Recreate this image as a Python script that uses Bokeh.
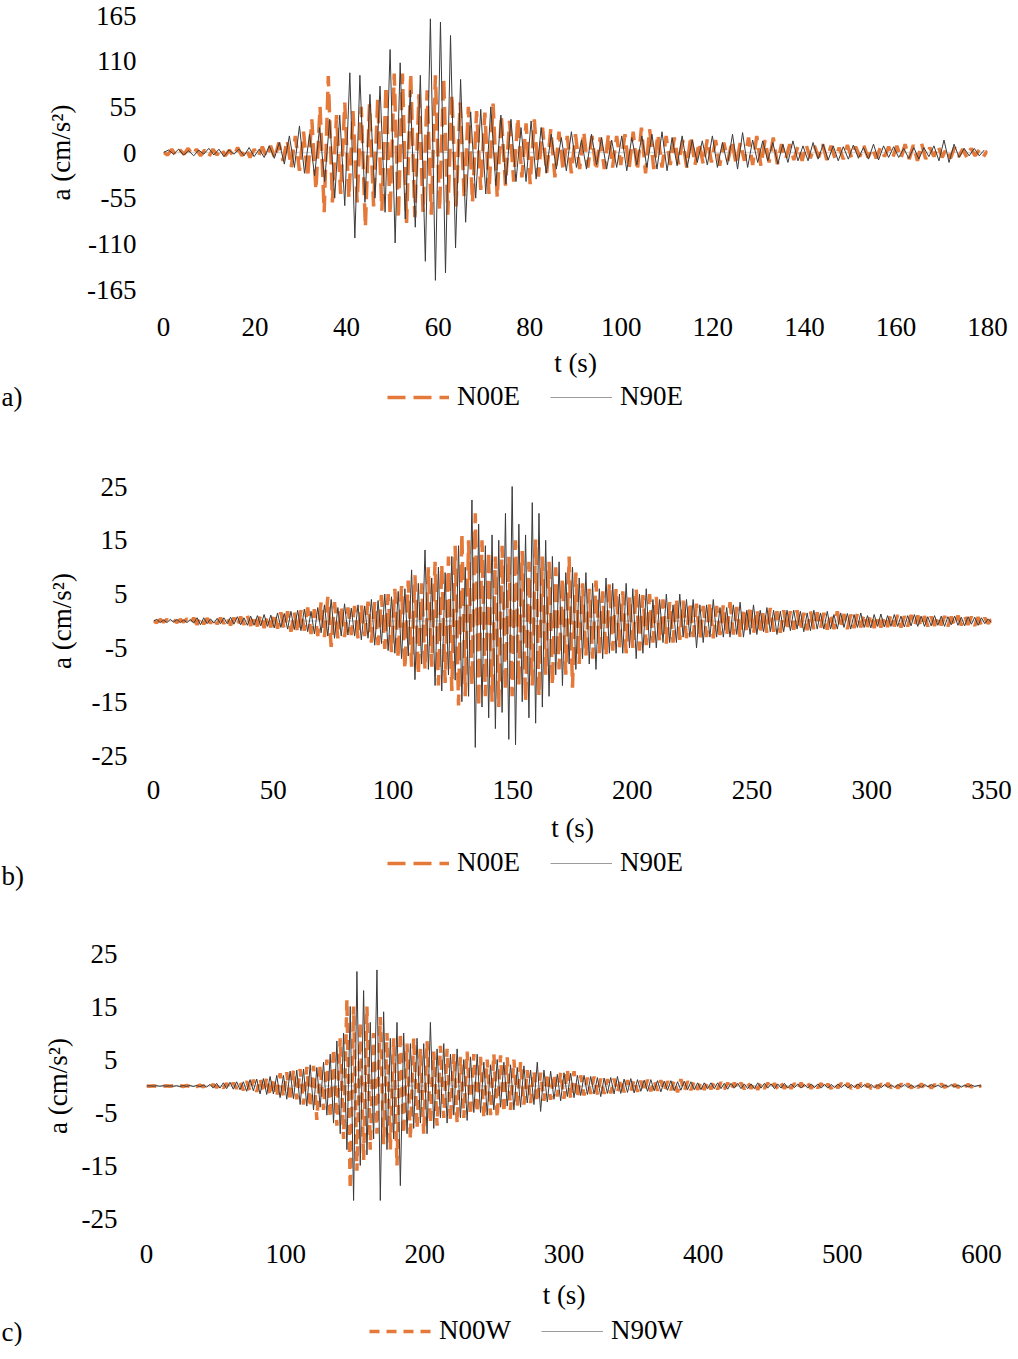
from bokeh.plotting import figure
from bokeh.models import Range1d, FixedTicker, Span, Legend, LegendItem, Label
from bokeh.layouts import column
from bokeh.embed import file_html
from bokeh.resources import INLINE

# ---------------- data ----------------
# panel a) : 0-180 s, cm/s^2
A_X_TICKS = [0, 20, 40, 60, 80, 100, 120, 140, 160, 180]
A_Y_TICKS = [-165, -110, -55, 0, 55, 110, 165]
A_NAMES = ["N00E", "N90E"]
A_DT_N00E = 0.9
A_N00E = [
    0, -3, 4, -4, 3, -2, 5, -3, 4, -4,
    3, -5, 4, -3, 5, -4, 3, -5, 6, -4,
    5, -6, 4, -5, 7, -6, 8, -7,
    12, -10, 15, -18, 20, -22, 25, -30, 40, -45,
    55, -72, 92, -60, 45, -50, 60, -55, 50, -60,
    55, -90, 58, -65, 65, -70, 80, -75, 95, -80,
    95, -85, 95, -78, 70, -72, 75, -75, 93, -70,
    90, -75, 70, -65, 60, -55, 55, -60, 50, -45,
    48, -50, 59, -54, 45, -40, 38, -35, 42, -30,
    35, -38, 40, -29, 30, -25, 28, -30, 25, -22,
    20, -25, 22, -20, 25, -18, 20, -22, 18, -20,
    22, -18, 20, -15, 22, -20, 25, -22, 30, -25,
    28, -20, 22, -18, 20, -15, 18, -14, 15, -18,
    20, -15, 12, -14, 16, -12, 15, -16, 12, -10,
    14, -15, 12, -10, 18, -15, 20, -16, 15, -12,
    18, -14, 10, -8, 10, -9, 8, -10, 9, -7,
    8, -6, 10, -9, 8, -7, 6, -8, 9, -6,
    7, -5, 8, -6, 5, -7, 6, -5, 7, -6,
    8, -7, 10, -8, 9, -10, 11, -8, 6, -5,
    8, -6, 5, -7, 6, -5, 4, -6, 5, -4,
    3, -5, 2,
]
A_DT_N90E = 1.1
A_N90E = [
    0, 3, -2, 4, -3, 2, -4, 3, -2, 5, -3, 4, -5, 3, -2, 4, -4, 6, -5, 4, -6, 8, -7,
    12, -14, 20, -18, 32, -25, 22, -28, 30,
    -35, 40, -55, 45, -64, 96, -103, 93, -60,
    70, -55, 80, -72, 124, -109, 108, -80, 75, -90,
    93, -131, 161, -154, 157, -145, 141, -115, 88, -84,
    49, -55, 52, -50, 55, -40, 45, -38, 40, -35,
    30, -35, 38, -32, 30, -25, 22, -20, 18, -22,
    25, -18, 15, -20, 22, -15, 18, -20, 15, -18,
    20, -22, 18, -15, 20, -18, 22, -20, 25, -22,
    18, -16, 20, -18, 15, -12, 14, -15, 20, -18,
    12, -15, 22, -20, 24, -18, 15, -12, 14, -10,
    12, -14, 10, -12, 14, -10, 8, -10, 12, -8,
    10, -9, 8, -10, 7, -8, 9, -7, 6, -8,
    10, -9, 8, -6, 7, -6, 5, -7, 6, -8,
    6, -5, 8, -10, 15, -12, 10, -6, 5, -4,
    5, -4, 3,
]

# panel b) : 0-350 s
B_X_TICKS = [0, 50, 100, 150, 200, 250, 300, 350]
B_Y_TICKS = [-25, -15, -5, 5, 15, 25]
B_NAMES = ["N00E", "N90E"]
B_DT_N00E = 1.4
B_N00E = [
    0, -0.3, 0.3, -0.2, 0.3, -0.3, 0.2, -0.3, 0.3, -0.2,
    0.4, -0.5, 0.6, -0.7, 0.8, -0.6, 0.5, -0.4, 0.5, -0.6,
    0.6, -0.5, 0.7, -0.8, 0.6, -0.9, 0.8, -0.7, 1.0, -0.9,
    1.1, -1.0, 1.2, -1.3, 1.0, -1.2, 1.5, -1.4, 1.6, -1.5,
    1.8, -2.0, 1.6, -2.2, 2.0, -1.8, 2.5, -2.4, 2.2, -2.8,
    3.5, -3.0, 4.5, -4.8, 3.5, -3.2, 2.8, -3.0, 2.5, -2.6,
    2.8, -3.2, 3.0, -2.8, 3.6, -4.0, 3.5, -4.5, 4.8, -5.2,
    5.0, -5.8, 6.0, -7.0, 6.5, -9.0, 7.5, -8.5, 8.5, -10.0,
    7.0, -9.0, 10.0, -8.5, 11.0, -12.0, 10.5, -11.5, 12.0, -13.0,
    14.0, -15.7, 16.3, -14.0, 15.0, -12.0, 20.0, -16.0, 15.0, -14.0,
    13.0, -15.0, 12.0, -16.0, 14.0, -13.0, 12.0, -14.0, 15.0, -12.0,
    13.0, -15.0, 11.0, -12.0, 15.2, -14.0, 12.0, -10.0, 11.0, -12.0,
    10.0, -9.0, 8.0, -10.0, 12.0, -12.4, 9.0, -8.0, 7.0, -6.5,
    6.0, -7.0, 7.5, -6.0, 5.5, -6.5, 7.0, -5.5, 6.0, -5.0,
    5.5, -6.0, 4.5, -5.0, 6.0, -5.5, 4.8, -4.5, 5.0, -4.0,
    4.5, -3.8, 4.0, -4.2, 3.5, -4.0, 4.2, -3.5, 3.8, -3.2,
    3.5, -3.0, 3.2, -3.5, 2.8, -3.0, 3.5, -3.2, 2.8, -2.6,
    3.0, -2.8, 3.5, -2.5, 2.6, -3.0, 2.4, -2.2, 2.8, -2.5,
    2.2, -2.4, 2.0, -2.2, 2.4, -2.0, 1.8, -2.2, 2.0, -1.8,
    1.8, -1.6, 2.0, -1.8, 1.5, -1.7, 1.8, -1.5, 1.6, -1.4,
    1.5, -1.6, 1.4, -1.5, 1.8, -1.4, 1.3, -1.5, 1.2, -1.3,
    1.4, -1.2, 1.3, -1.1, 1.2, -1.3, 1.1, -1.2, 1.0, -1.1,
    1.2, -1.0, 1.1, -1.2, 0.9, -1.0, 1.1, -0.9, 1.0, -1.1,
    0.9, -1.0, 0.8, -0.9, 1.0, -0.8, 0.9, -1.0, 0.8, -0.9,
    1.0, -0.8, 0.9, -0.7, 0.8, -0.9, 0.7, -0.8, 0.6, -0.5,
    0.3,
]
B_DT_N90E = 1.4
B_N90E = [
    0, 0.3, -0.3, 0.2, -0.3, 0.3, -0.2, 0.3, -0.3, 0.2,
    -0.3, 0.3, -0.4, 0.6, -0.7, 0.6, -0.5, 0.4, -0.4, 0.5,
    -0.5, 0.6, -0.5, 0.7, -0.6, 0.8, -0.7, 0.6, -0.8, 0.9,
    -0.8, 1.0, -0.9, 1.2, -1.0, 1.1, -1.3, 1.5, -1.2, 1.4,
    -1.5, 1.8, -1.6, 2.0, -1.8, 2.2, -2.0, 1.8, -2.4, 2.5,
    -2.2, 3.0, -2.8, 4.0, -3.2, 2.5, -2.8, 3.2, -2.6, 2.4,
    -2.8, 3.0, -3.5, 2.8, -3.2, 4.0, -4.5, 3.8, -4.2, 5.0,
    -5.5, 4.5, -6.0, 5.5, -7.0, 6.0, -6.5, 9.5, -10.9, 7.0,
    -8.0, 13.2, -9.0, 8.0, -12.0, 10.0, -13.0, 9.0, -10.0, 12.0,
    -11.0, 14.0, -15.0, 10.0, -14.0, 22.5, -23.5, 18.0, -16.0, 14.0,
    -18.0, 16.0, -20.0, 15.0, -17.0, 20.0, -22.0, 25.6, -23.0, 18.0,
    -15.0, 16.0, -18.0, 22.0, -19.0, 20.0, -16.0, 15.0, -14.0, 12.0,
    -10.0, 11.0, -12.0, 9.0, -8.0, 10.0, -9.0, 8.0, -7.0, 9.0,
    -8.0, 7.0, -9.0, 6.0, -7.0, 8.0, -6.0, 7.0, -6.0, 5.0,
    -6.0, 7.0, -5.0, 6.0, -7.0, 5.0, -6.0, 6.0, -5.0, 4.0,
    -5.0, 4.0, -4.0, 5.0, -4.0, 3.0, -4.0, 5.0, -3.0, 4.0,
    -3.0, 4.0, -5.0, 3.0, -4.0, 3.0, -3.0, 4.0, -3.0, 2.5,
    -3.0, 2.5, -3.0, 3.0, -2.5, 3.5, -3.0, 2.0, -2.5, 3.0,
    -2.5, 2.0, -2.0, 2.5, -2.0, 2.0, -2.5, 1.8, -2.0, 2.0,
    -1.8, 2.0, -1.5, 1.8, -2.0, 1.5, -1.8, 2.0, -1.5, 1.5,
    -1.5, 1.8, -1.5, 1.2, -1.5, 1.5, -1.2, 1.4, -1.5, 1.2,
    -1.2, 1.5, -1.2, 1.0, -1.3, 1.2, -1.0, 1.3, -1.1, 1.0,
    -1.0, 1.2, -1.0, 0.9, -1.1, 1.0, -0.9, 1.2, -1.0, 0.9,
    -1.0, 0.8, -0.9, 1.0, -0.8, 0.9, -1.0, 0.8, -0.7, 0.9,
    -0.8, 0.7, -0.9, 0.8, -0.6, 0.7, -0.8, 0.6, -0.5, 0.4,
    -0.3,
]

# panel c) : 0-600 s
C_X_TICKS = [0, 100, 200, 300, 400, 500, 600]
C_Y_TICKS = [-25, -15, -5, 5, 15, 25]
C_NAMES = ["N00W", "N90W"]
C_DT_N00W = 2.4
C_N00W = [
    0, -0.05, 0.05, -0.05, 0.05, -0.05, 0.05, -0.05, 0.05, -0.05,
    0.1, -0.1, 0.1, -0.1, 0.1, -0.1, 0.15, -0.15, 0.2, -0.2,
    0.3, -0.3, 0.4, -0.4, 0.5, -0.5, 0.6, -0.5, 0.7, -0.8,
    0.9, -1.0, 1.2, -1.1, 1.4, -1.2, 1.6, -1.8, 1.5, -2.0,
    2.4, -2.0, 2.6, -2.8, 3.0, -2.5, 3.2, -3.5, 3.6, -4.0,
    3.8, -6.4, 4.0, -4.5, 5.0, -6.0, 7.0, -7.5, 9.0, -10.0,
    16.3, -19.4, 15.0, -16.0, 12.0, -14.0, 15.0, -12.0, 10.0, -9.0,
    13.0, -11.0, 10.0, -12.0, 9.0, -15.0, 10.0, -9.0, 8.0, -10.0,
    9.0, -8.0, 7.0, -9.0, 8.5, -7.0, 6.5, -7.5, 7.6, -6.0,
    7.0, -6.5, 6.0, -7.0, 5.5, -6.0, 6.5, -5.5, 6.0, -5.0,
    5.5, -6.0, 5.0, -5.5, 6.0, -6.0, 5.8, -5.0, 5.4, -4.5,
    5.0, -4.0, 4.5, -3.5, 3.0, -3.2, 2.8, -3.0, 2.5, -2.8,
    2.4, -2.6, 2.2, -2.0, 2.5, -2.4, 3.2, -2.4, 2.8, -2.2,
    2.0, -1.8, 1.6, -1.5, 1.8, -1.6, 1.4, -1.5, 1.3, -1.4,
    1.4, -1.2, 1.3, -1.2, 1.1, -1.0, 1.2, -1.1, 1.0, -1.1,
    1.2, -1.0, 1.0, -0.9, 1.1, -1.0, 0.9, -0.8, 1.0, -1.2,
    1.3, -1.0, 0.9, -0.8, 0.9, -0.7, 0.8, -0.7, 0.8, -0.6,
    0.7, -0.6, 0.7, -0.6, 0.6, -0.7, 0.6, -0.5, 0.6, -0.6,
    0.6, -0.5, 0.6, -0.7, 0.6, -0.5, 0.6, -0.5, 0.5, -0.6,
    0.5, -0.5, 0.6, -0.5, 0.5, -0.5, 0.6, -0.4, 0.5, -0.5,
    0.5, -0.4, 0.5, -0.5, 0.4, -0.5, 0.5, -0.4, 0.5, -0.4,
    0.5, -0.5, 0.4, -0.4, 0.5, -0.4, 0.4, -0.5, 0.4, -0.4,
    0.4, -0.4, 0.5, -0.4, 0.4, -0.4, 0.4, -0.3, 0.4, -0.4,
    0.4, -0.3, 0.4, -0.4, 0.3, -0.4, 0.3, -0.3, 0.4, -0.3,
    0.3, -0.3, 0.3, -0.3, 0.3, -0.2, 0.3, -0.2, 0.2, -0.2,
    0.1,
]
C_DT_N90W = 2.4
C_N90W = [
    0, 0.05, -0.05, 0.05, -0.05, 0.05, -0.05, 0.05, -0.05, 0.05,
    -0.1, 0.1, -0.1, 0.1, -0.1, 0.1, -0.15, 0.2, -0.2, 0.3,
    -0.4, 0.5, -0.4, 0.6, -0.5, 0.7, -0.6, 0.8, -0.7, 0.8,
    -1.0, 1.2, -0.9, 1.3, -1.5, 1.4, -1.6, 1.8, -1.5, 2.0,
    -2.2, 2.0, -2.5, 2.8, -2.4, 3.0, -3.5, 3.2, -3.8, 4.0,
    -4.5, 3.5, -4.0, 4.5, -5.5, 6.0, -7.0, 8.5, -9.0, 10.0,
    -12.0, 15.0, -21.6, 21.6, -15.0, 18.0, -13.0, 12.0, -10.0, 21.9,
    -21.6, 14.0, -12.0, 9.0, -10.0, 12.0, -18.8, 10.0, -9.0, 8.0,
    -8.0, 9.0, -7.0, 8.0, -9.0, 12.0, -8.0, 7.0, -6.0, 8.0,
    -7.0, 6.0, -5.5, 7.0, -6.0, 5.0, -6.5, 5.5, -5.0, 6.0,
    -5.0, 4.5, -5.5, 4.0, -4.5, 5.0, -4.0, 4.5, -3.8, 4.0,
    -4.5, 3.5, -4.0, 3.8, -3.2, 3.0, -3.5, 4.5, -4.8, 3.0,
    -3.0, 2.8, -2.5, 2.2, -2.8, 2.5, -2.0, 2.4, -2.2, 2.0,
    -1.8, 2.0, -1.6, 1.8, -1.5, 1.6, -2.0, 1.5, -1.4, 1.6,
    -1.5, 1.8, -1.4, 1.3, -1.2, 1.4, -1.3, 1.2, -1.0, 1.1,
    -1.0, 1.2, -0.9, 1.0, -1.1, 0.9, -0.8, 1.0, -0.9, 0.8,
    -0.8, 0.9, -0.7, 0.8, -0.7, 0.6, -0.7, 0.6, -0.5, 0.6,
    -0.5, 0.6, -0.5, 0.5, -0.6, 0.5, -0.4, 0.5, -0.5, 0.4,
    -0.5, 0.4, -0.5, 0.6, -0.4, 0.5, -0.4, 0.4, -0.5, 0.4,
    -0.4, 0.5, -0.4, 0.4, -0.3, 0.4, -0.4, 0.3, -0.4, 0.4,
    -0.3, 0.4, -0.4, 0.3, -0.4, 0.3, -0.3, 0.4, -0.3, 0.3,
    -0.4, 0.3, -0.3, 0.4, -0.3, 0.3, -0.3, 0.3, -0.4, 0.3,
    -0.3, 0.3, -0.3, 0.2, -0.3, 0.3, -0.2, 0.3, -0.3, 0.2,
    -0.3, 0.2, -0.3, 0.3, -0.2, 0.3, -0.2, 0.2, -0.3, 0.2,
    -0.2, 0.3, -0.2, 0.2, -0.2, 0.2, -0.2, 0.2, -0.1, 0.1,
    0,
]

# ---------------- styling ----------------
FONT = "Liberation Serif"
FS = "27px"
ORANGE = "#E5793A"
DARK = "#3A3A3A"
W = 1012


def times(vals, dt):
    return [i * dt for i in range(len(vals))]


def panel(h, left, right, top, bottom, xmax, ylim, xticks, yticks,
          v_or, dt_or, v_bk, dt_bk, dash, xstand, xlstand, ystand, ylstand):
    p = figure(width=W, height=h, output_backend="svg", toolbar_location=None,
               x_range=Range1d(0, xmax), y_range=Range1d(-ylim, ylim),
               min_border_left=left, min_border_right=right,
               min_border_top=top, min_border_bottom=bottom)
    p.frame_align = False
    p.outline_line_color = None
    p.grid.visible = False

    p.add_layout(Span(location=0, dimension="width", line_color="#D4D4D4",
                      line_width=1.5, level="underlay"))

    p.line(times(v_or, dt_or), v_or, line_color=ORANGE, line_width=3.5,
           line_dash=dash)
    p.line(times(v_bk, dt_bk), v_bk, line_color=DARK, line_width=1)

    for ax in (p.xaxis[0], p.yaxis[0]):
        ax.axis_line_color = None
        ax.major_tick_line_color = None
        ax.minor_tick_line_color = None
        ax.major_tick_out = 0
        ax.major_tick_in = 0
        ax.major_label_text_font = FONT
        ax.major_label_text_font_size = FS
        ax.major_label_text_color = "black"
        ax.axis_label_text_font = FONT
        ax.axis_label_text_font_size = FS
        ax.axis_label_text_font_style = "normal"
        ax.axis_label_text_color = "black"

    p.xaxis.ticker = FixedTicker(ticks=xticks)
    p.xaxis.major_label_overrides = {t: str(t) for t in xticks}
    p.xaxis.axis_label = "t (s)"
    p.xaxis.major_label_standoff = xstand
    p.xaxis.axis_label_standoff = xlstand

    p.yaxis.ticker = FixedTicker(ticks=yticks)
    p.yaxis.major_label_overrides = {t: str(t) for t in yticks}
    p.yaxis.axis_label = "a (cm/s²)"
    p.yaxis.major_label_standoff = ystand
    p.yaxis.axis_label_standoff = ylstand
    return p


def legend_row(h, names, v_or, dt_or, v_bk, dt_bk, dash, leg_xy, tag, tag_y):
    # legend strip: same series, with a y-window that keeps the traces out of view
    lp = figure(width=W, height=h, output_backend="svg", toolbar_location=None,
                x_range=Range1d(0, 1), y_range=Range1d(1000, 1001),
                x_axis_type=None, y_axis_type=None, min_border=0)
    lp.frame_align = False
    lp.outline_line_color = None
    lp.grid.visible = False
    r_or = lp.line(times(v_or, dt_or), v_or, line_color=ORANGE, line_width=3.5,
                   line_dash=dash)
    r_bk = lp.line(times(v_bk, dt_bk), v_bk, line_color="#9C9C9C", line_width=1)
    legend = Legend(items=[LegendItem(label=names[0], renderers=[r_or]),
                           LegendItem(label=names[1], renderers=[r_bk])],
                    location=leg_xy, orientation="horizontal",
                    glyph_width=62, glyph_height=30, label_height=30,
                    label_standoff=8, spacing=30, padding=0, margin=0,
                    border_line_color=None, background_fill_alpha=0,
                    label_text_font=FONT, label_text_font_size=FS,
                    label_text_color="black")
    lp.add_layout(legend)
    lp.add_layout(Label(x=1, y=tag_y, x_units="screen", y_units="screen",
                        text=tag, text_font=FONT, text_font_size=FS,
                        text_color="black", text_baseline="middle", text_align="left"))
    return lp


pa = panel(380, 163, 25, 15, 89, 180, 165, A_X_TICKS, A_Y_TICKS,
           A_N00E, A_DT_N00E, A_N90E, A_DT_N90E, "18 8", 28, 9, 27, 8)
la = legend_row(36, A_NAMES, A_N00E, A_DT_N00E, A_N90E, A_DT_N90E, "18 8",
                (387, 4), "a)", 20)

pb = panel(429, 153, 21, 70, 89, 350, 25, B_X_TICKS, B_Y_TICKS,
           B_N00E, B_DT_N00E, B_N90E, B_DT_N90E, "18 8", 25, 11, 26, 12)
lb = legend_row(46, B_NAMES, B_N00E, B_DT_N00E, B_N90E, B_DT_N90E, "18 8",
                (387, 13), "b)", 16)

pc = panel(421, 146, 31, 62, 91, 600, 25, C_X_TICKS, C_Y_TICKS,
           C_N00W, C_DT_N00W, C_N90W, C_DT_N90W, "10 7", 26, 14, 29, 6)
lc = legend_row(34, C_NAMES, C_N00W, C_DT_N00W, C_N90W, C_DT_N90W, "10 7",
                (369, 0), "c)", 15)

layout = column(pa, la, pb, lb, pc, lc, spacing=0)

open("out.html", "w").write(file_html(layout, INLINE))
